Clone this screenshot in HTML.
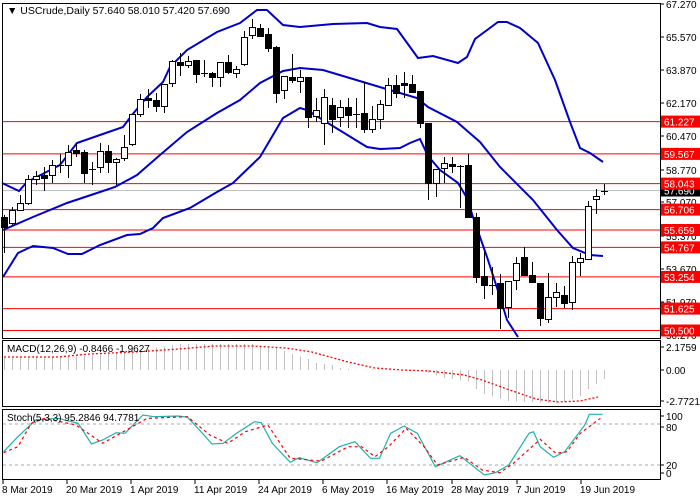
<!DOCTYPE html>
<html><head><meta charset="utf-8"><style>
html,body{margin:0;padding:0;background:#fff;}
svg{display:block;font-family:"Liberation Sans",sans-serif;font-size:10px;}
</style></head><body>
<svg id="s" width="700" height="500" xmlns="http://www.w3.org/2000/svg"></svg>
<script>
const s=document.getElementById('s');let h='';
h+='<rect x="0" y="0" width="700" height="500" fill="#fff"/>';
const reds=[[121.6,'61.227'],[153.9,'59.567'],[183.6,'58.043'],[209.6,'56.706'],[230,'55.659'],[247.4,'54.767'],[276.9,'53.254'],[308.6,'51.625'],[330.5,'50.500']];
reds.forEach(r=>h+=`<line x1="3" x2="660" y1="${r[0]}" y2="${r[0]}" stroke="#f00" stroke-width="1"/>`);
h+='<line x1="3" x2="660" y1="190.5" y2="190.5" stroke="#c0c0c0"/>';
function pl(pts,c,w,extra){return `<polyline fill="none" stroke="${c}" stroke-width="${w}" ${extra||''} points="${pts.map(p=>p.join(',')).join(' ')}"/>`;}
const up=[[2,183],[19,191],[27,182],[60,165],[77,143],[100,135],[123,127],[132,115],[147,97],[163,82],[170,67],[187,50],[217,32],[240,23],[257,10],[267,10],[283,25],[300,27],[333,24],[367,23],[380,27],[397,29],[418,58],[433,56],[458,63],[467,57],[475,39],[498,22],[507,22],[520,28],[538,43],[555,80],[570,122],[580,148],[590,153],[603,162]];
const mid=[[3,230],[33,217],[67,203],[100,192],[115,187],[137,175],[160,155],[187,132],[217,113],[240,100],[260,83],[283,71],[300,68],[323,70],[363,82],[383,88],[417,98],[428,107],[457,122],[480,142],[500,167],[533,200],[557,230],[573,248],[590,255],[603,256]];
const lo=[[3,277],[18,253],[33,246],[53,248],[68,254],[82,254],[100,245],[127,235],[140,234],[153,228],[163,218],[190,208],[217,192],[233,183],[260,157],[283,118],[300,108],[307,110],[323,120],[367,147],[380,149],[400,148],[410,143],[420,139],[428,156],[440,170],[458,183],[467,198],[473,217],[487,257],[500,297],[507,320],[518,337]];
h+=pl(up,'#0000cc',2)+pl(mid,'#0000cc',2)+pl(lo,'#0000cc',2);
const C=[[217,227,215,253,'b'],[223,210,207,225,'w'],[210,203,195,211,'w'],[203,179,175,205,'w'],[179,176,171,185,'w'],[175,178,167,191,'b'],[175,165,160,183,'w'],[165,165,154,173,'d'],[165,152,145,178,'w'],[150,153,143,157,'b'],[152,173,150,183,'b'],[169,169,162,185,'d'],[167,151,143,173,'w'],[151,162,145,173,'b'],[162,159,158,185,'w'],[158,147,135,161,'w'],[144,114,114,146,'w'],[114,99,94,117,'w'],[98,100,89,108,'b'],[100,106,93,112,'b'],[106,84,84,113,'w'],[83,61,60,87,'w'],[62,65,53,76,'b'],[65,61,56,68,'w'],[60,74,60,83,'b'],[73,73,60,77,'d'],[73,77,72,87,'b'],[77,62,62,87,'w'],[62,72,55,74,'b'],[73,69,66,78,'w'],[64,37,31,66,'w'],[35,27,19,39,'w'],[28,36,24,37,'b'],[34,48,28,52,'b'],[47,93,46,103,'b'],[90,76,76,99,'w'],[77,80,54,83,'b'],[81,77,70,93,'w'],[77,117,77,128,'b'],[116,110,98,122,'w'],[123,97,89,145,'w'],[105,119,98,133,'b'],[117,107,100,127,'w'],[107,115,98,128,'b'],[114,114,98,128,'d'],[113,129,82,133,'b'],[129,119,106,133,'w'],[119,104,100,129,'w'],[105,85,78,106,'w'],[85,93,75,98,'b'],[83,85,72,98,'b'],[84,92,75,93,'b'],[91,123,91,128,'b'],[123,183,123,200,'b'],[183,169,169,197,'w'],[168,163,157,183,'w'],[164,166,157,173,'b'],[166,166,165,208,'d'],[165,217,154,218,'b'],[217,277,213,283,'b'],[276,285,251,299,'b'],[285,285,267,295,'d'],[283,308,274,329,'b'],[307,281,281,318,'w'],[280,263,257,290,'w'],[257,275,247,276,'b'],[275,282,262,283,'b'],[283,318,283,326,'b'],[319,297,273,323,'w'],[297,292,283,307,'w'],[295,303,286,308,'b'],[302,262,256,310,'w'],[262,258,253,276,'w'],[259,206,201,260,'w'],[199,196,189,214,'w'],[191,191,184,195,'d']];
C.forEach((c,i)=>{const x=4+8*i;const [o,cl,hi,lw,t]=c;const top=Math.min(o,cl),bot=Math.max(o,cl);
h+=`<line x1="${x+.5}" x2="${x+.5}" y1="${hi}" y2="${lw}" stroke="#000"/>`;
if(t==='d'){h+=`<line x1="${x-3}" x2="${x+4}" y1="${o+.5}" y2="${o+.5}" stroke="#000"/>`;}
else h+=`<rect x="${x-2.5}" y="${top+.5}" width="6" height="${Math.max(bot-top,1)}" fill="${t==='b'?'#000':'#fff'}" stroke="#000"/>`;});
h+='<rect x="2.5" y="3.5" width="658" height="335" fill="none" stroke="#000"/>';
h+='<rect x="2.5" y="340.5" width="658" height="66" fill="none" stroke="#000"/>';
h+='<rect x="2.5" y="409.5" width="658" height="70" fill="none" stroke="#000"/>';
const ax=[[4,'67.270'],[37,'65.570'],[70,'63.870'],[103,'62.170'],[136,'60.470'],[170,'58.770'],[202,'57.070'],[236,'55.370'],[269,'53.670'],[302,'51.970'],[335,'50.270']];
ax.forEach(a=>h+=`<line x1="660" x2="664" y1="${a[0]}" y2="${a[0]}" stroke="#000"/><text x="666" y="${a[0]+4}">${a[1]}</text>`);
h+=`<rect x="661" y="184.5" width="39" height="12" fill="#000"/><text x="664" y="194.5" fill="#fff">57.690</text>`;
reds.forEach(r=>h+=`<rect x="661" y="${r[0]-6}" width="39" height="12" fill="#f00"/><text x="664" y="${r[0]+4}" fill="#fff">${r[1]}</text>`);
h+='<text x="7" y="14" font-size="10.5">▼ USCrude,Daily  57.640 58.010 57.420 57.690</text>';
const hv=[[0,12],[10,14],[18,21],[22,26],[31,26],[32,24],[34,22],[36,16],[38,11],[39,7],[41,5],[42,2],[44,0.5],[52,0.5],[53,-3],[55,-8],[58,-11],[59,-19],[60,-24],[62,-29],[63,-31],[68,-33],[70,-32],[72,-26],[73,-19],[74,-14],[75,-9]];
function interp(a,i){for(let k=0;k<a.length-1;k++){if(i>=a[k][0]&&i<=a[k+1][0]){const t=(i-a[k][0])/(a[k+1][0]-a[k][0]||1);return a[k][1]+t*(a[k+1][1]-a[k][1]);}}return a[a.length-1][1];}
for(let i=0;i<76;i++){const v=interp(hv,i);const x=4.5+8*i;h+=`<line x1="${x}" x2="${x}" y1="370" y2="${370-v}" stroke="#c0c0c0"/>`;}
h+=pl([[4,357],[58,357],[89,354],[134,352],[179,349],[214,346],[254,346],[286,348],[312,352],[348,362],[375,368],[402,370],[429,371],[464,375],[482,380],[504,388],[536,399],[558,402],[580,401],[598,397]],'#f00',1.3,'stroke-dasharray="2,2"');
h+='<text x="7" y="352">MACD(12,26,9) -0.8466 -1.9627</text>';
[[347,'2.1759'],[370,'0.00'],[401,'-2.7721']].forEach(a=>h+=`<line x1="660" x2="664" y1="${a[0]}" y2="${a[0]}" stroke="#000"/><text x="666" y="${a[0]+4}">${a[1]}</text>`);
h+='<line x1="3" x2="660" y1="424" y2="424" stroke="#aaa" stroke-dasharray="3,3"/><line x1="3" x2="660" y1="465" y2="465" stroke="#aaa" stroke-dasharray="3,3"/>';
const conv=a=>a.map(p=>[+(p[0]/2.24).toFixed(1),+(p[1]/3+300).toFixed(1)]);
const sm=[[8,455],[40,410],[80,360],[130,355],[175,370],[205,432],[230,420],[260,398],[280,400],[320,345],[345,350],[400,348],[420,352],[440,380],[475,432],[500,430],[530,400],[570,365],[585,368],[610,430],[650,487],[670,473],[710,488],[760,440],[795,425],[830,475],[850,475],[875,400],[905,378],[935,400],[975,500],[1030,467],[1085,525],[1110,518],[1140,495],[1185,400],[1195,395],[1210,440],[1240,472],[1265,455],[1310,375],[1320,343],[1350,343]];
const ss=[[8,458],[40,440],[70,370],[100,355],[170,375],[230,430],[270,400],[330,355],[420,350],[470,405],[510,430],[550,395],[600,375],[650,475],[720,483],[780,440],[810,440],[840,470],[870,440],[910,385],[950,440],[980,495],[1040,472],[1080,510],[1120,518],[1150,490],[1210,418],[1245,460],[1270,455],[1300,400],[1345,355]];
h+=pl(conv(sm),'#20b2aa',1.2)+pl(conv(ss),'#f00',1.2,'stroke-dasharray="3,3"');
h+='<text x="7" y="421">Stoch(5,3,3) 95.2846 94.7781</text>';
[[416,'100'],[427,'80'],[465,'20'],[473,'0']].forEach(a=>h+=`<line x1="660" x2="664" y1="${a[0]}" y2="${a[0]}" stroke="#000"/><text x="666" y="${a[0]+4}">${a[1]}</text>`);
[[2,'8 Mar 2019'],[66,'20 Mar 2019'],[130,'1 Apr 2019'],[194,'11 Apr 2019'],[258,'24 Apr 2019'],[322,'6 May 2019'],[386,'16 May 2019'],[451,'28 May 2019'],[516,'7 Jun 2019'],[580,'19 Jun 2019']].forEach(d=>h+=`<line x1="${d[0]+1}" x2="${d[0]+1}" y1="480" y2="484" stroke="#000"/><text x="${d[0]}" y="493">${d[1]}</text>`);
s.innerHTML=h;
</script>
</body></html>
